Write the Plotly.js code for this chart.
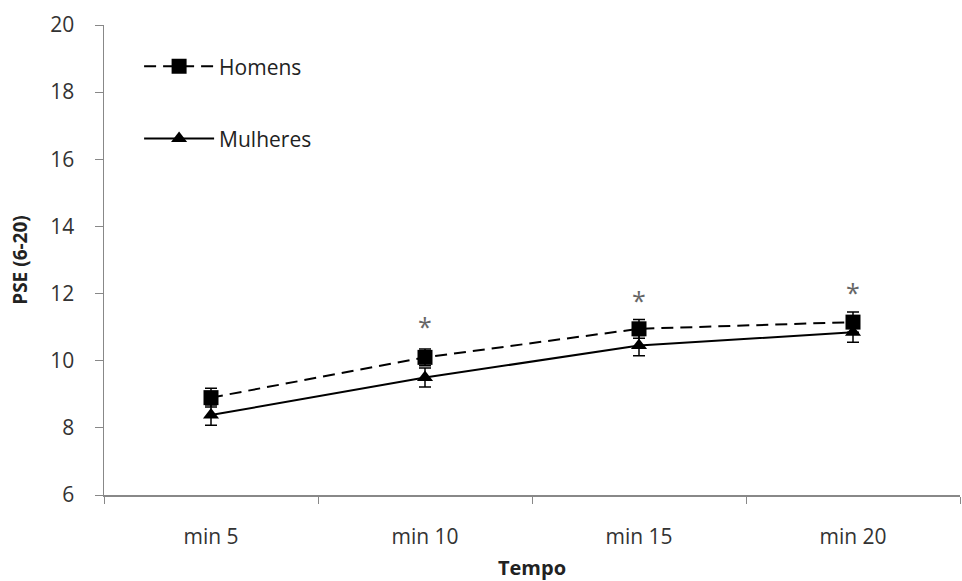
<!DOCTYPE html>
<html>
<head>
<meta charset="utf-8">
<script src="https://cdn.plot.ly/plotly-3.0.1.min.js"></script>
<style>html,body{margin:0;padding:0;background:#fff;}#chart{width:962px;height:581px;}</style>
</head>
<body>
<div id="chart"></div>
<script>
const categories = ["min 5", "min 10", "min 15", "min 20"];
const homens = [8.9, 10.1, 10.95, 11.15];
const homensErr = [0.28, 0.25, 0.28, 0.3];
const mulheres = [8.38, 9.5, 10.45, 10.85];
const mulheresErr = [0.3, 0.28, 0.3, 0.3];
const starCategories = ["min 10", "min 15", "min 20"];
const starY = [11.28, 12.08, 12.32];

const FONT = "'Open Sans', sans-serif";

const traces = [
  {
    x: categories, y: homens, name: "Homens", type: "scatter", mode: "lines+markers",
    line: {color: "#000", width: 2, dash: "12px,7px"},
    marker: {symbol: "square", size: 15, color: "#000"},
    error_y: {type: "data", array: homensErr, visible: true, color: "#000", thickness: 1.5, width: 6},
    legendgroup: "a"
  },
  {
    x: categories, y: mulheres, name: "Mulheres", type: "scatter", mode: "lines+markers",
    line: {color: "#000", width: 2},
    marker: {symbol: "triangle-up", size: 14, color: "#000"},
    error_y: {type: "data", array: mulheresErr, visible: true, color: "#000", thickness: 1.5, width: 6},
    legendgroup: "b"
  },
  {
    x: starCategories, y: starY, type: "scatter", mode: "text", text: starCategories.map(() => "*"),
    textposition: "bottom center",
    textfont: {family: FONT, size: 25, color: "#666"}, showlegend: false, hoverinfo: "skip"
  }
];

const layout = {
  width: 962, height: 581,
  margin: {l: 104, r: 2, t: 25, b: 86},
  paper_bgcolor: "#fff", plot_bgcolor: "#fff",
  font: {family: FONT, color: "#333", size: 21},
  showlegend: true,
  legend: {
    x: 0.041, y: 0.955, xanchor: "left", yanchor: "top",
    bgcolor: "rgba(0,0,0,0)", traceorder: "grouped", tracegroupgap: 42,
    font: {family: FONT, size: 21, color: "#222"}, itemwidth: 70
  },
  xaxis: {
    type: "category", range: [-0.5, 3.5],
    showline: true, linecolor: "#888", linewidth: 1.5,
    ticks: "outside", tickson: "boundaries", ticklen: 7, tickcolor: "#888",
    ticklabelstandoff: 22,
    showgrid: false, zeroline: false,
    tickfont: {family: FONT, size: 21, color: "#333"},
    title: {text: "<b>Tempo</b>", font: {family: FONT, size: 20, color: "#222"}, standoff: 12}
  },
  yaxis: {
    range: [6, 20], dtick: 2, tick0: 6,
    showline: true, linecolor: "#888", linewidth: 1.5,
    ticks: "outside", ticklen: 8, tickcolor: "#888",
    ticklabelstandoff: 16,
    showgrid: false, zeroline: false,
    tickfont: {family: FONT, size: 21, color: "#333"},
    title: {text: "<b>PSE (6-20)</b>", font: {family: FONT, size: 19, color: "#222"}, standoff: 17}
  }
};

Plotly.newPlot("chart", traces, layout, {displayModeBar: false, staticPlot: true});
</script>
</body>
</html>
